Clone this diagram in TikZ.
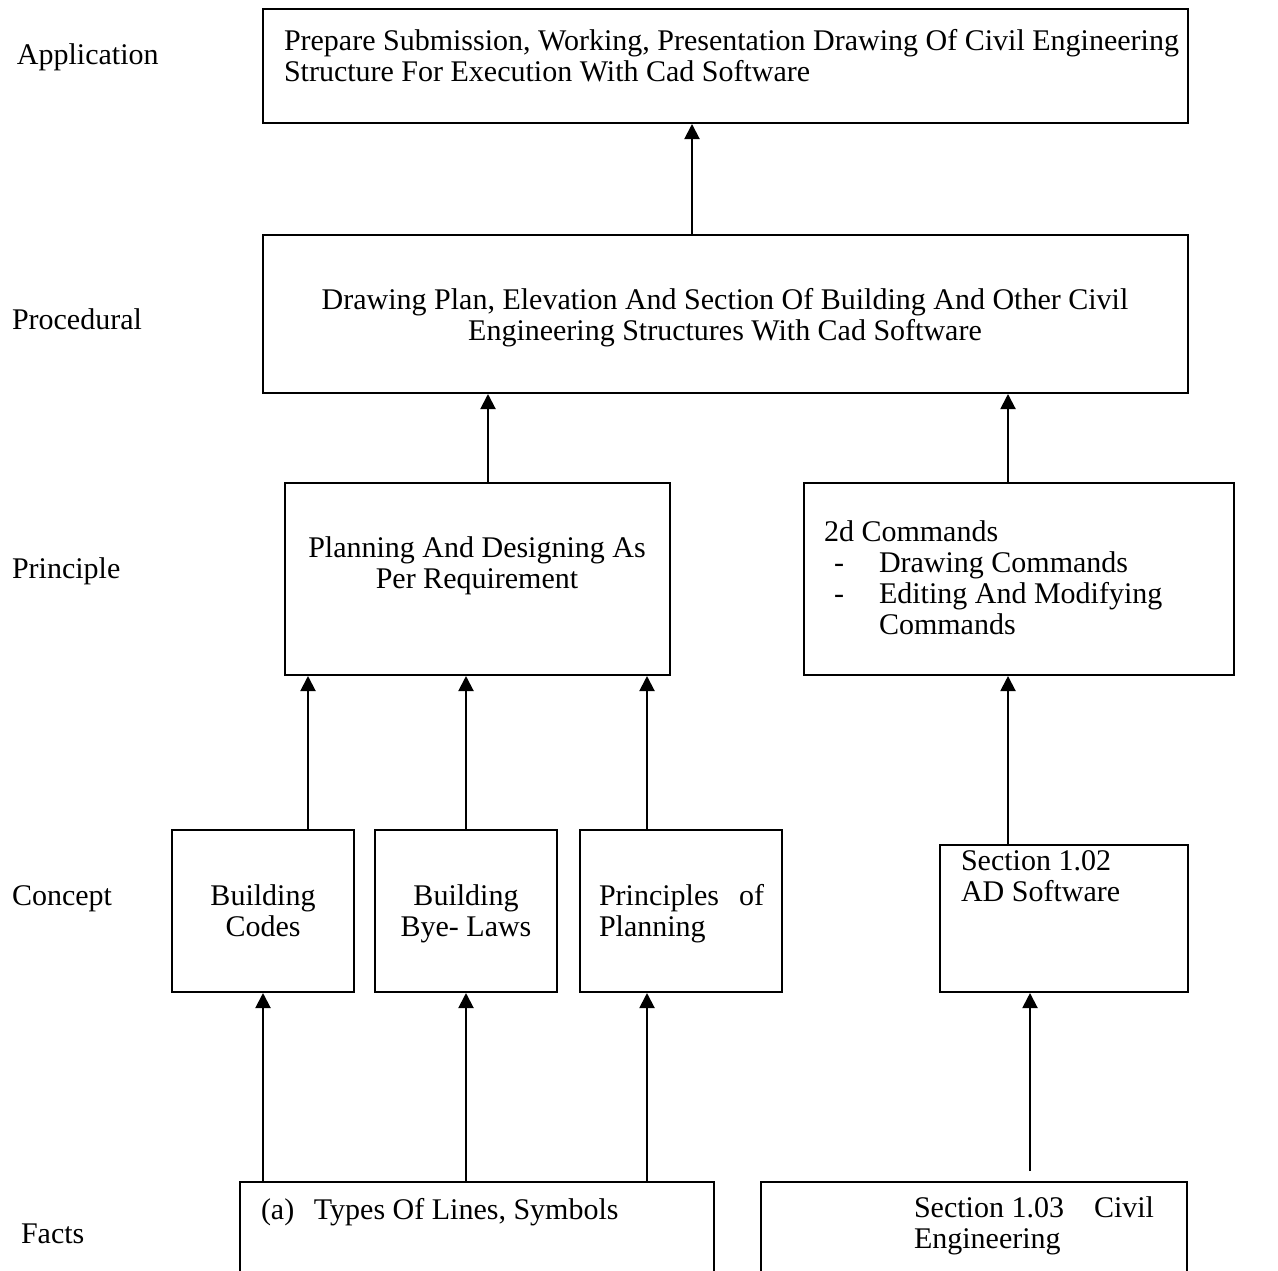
\documentclass[tikz,border=0pt]{standalone}
\usepackage{fontspec}
\setmainfont{Liberation Serif}
\usetikzlibrary{arrows.meta}

\begin{document}
\begin{tikzpicture}[x=0.5pt,y=-0.5pt,line width=1pt,
	every node/.style={font=\fontsize{15}{15.5}\selectfont},
	box/.style={draw,rectangle,inner sep=0pt},
	txt/.style={inner sep=0pt,anchor=base west,align=left},
	ctxt/.style={inner sep=0pt,anchor=base,align=center},
	arr/.style={-{Triangle[length=7.5pt,width=7.5pt]}}]
	\clip (0,0) rectangle (1278,1270);
	% level names
	\node[txt] (lapp) at (16,64) {Application};
	\node[txt] (lproc) at (11,329) {Procedural};
	\node[txt] (lprin) at (11,578) {Principle};
	\node[txt] (lcon) at (11,905) {Concept};
	\node[txt] (lfac) at (20,1243) {Facts};
	% boxes
	\node[box,minimum width=462.5pt,minimum height=57pt] (app) at (725.5,66) {};
	\node[box,minimum width=462.5pt,minimum height=79pt] (proc) at (725.5,314) {};
	\node[box,minimum width=192.5pt,minimum height=96pt] (plan) at (477.5,579) {};
	\node[box,minimum width=215pt,minimum height=96pt] (cmds) at (1019,579) {};
	\node[box,minimum width=91pt,minimum height=81pt] (codes) at (263,911) {};
	\node[box,minimum width=91pt,minimum height=81pt] (byelaws) at (466,911) {};
	\node[box,minimum width=101pt,minimum height=81pt] (pplan) at (681,911) {};
	\node[box,minimum width=124pt,minimum height=73.5pt] (cad) at (1064,918.5) {};
	\node[box,minimum width=237pt,minimum height=59pt] (lines) at (477,1241) {};
	\node[box,minimum width=213pt,minimum height=59pt] (civil) at (974,1241) {};
	% texts (base = last line)
	\node[txt] (apptxt) at (283,81) {Prepare Submission, Working, Presentation Drawing Of Civil Engineering\\Structure For Execution With Cad Software};
	\node[ctxt] (proctxt) at (725,340) {Drawing Plan, Elevation And Section Of Building And Other Civil\\Engineering Structures With Cad Software};
	\node[ctxt] (plantxt) at (477,588) {Planning And Designing As\\Per Requirement};
	\node[txt] (cmdstxt) at (823,634) {2d Commands\\
		\makebox[27.5pt][l]{\hspace{5pt}-}Drawing Commands\\
		\makebox[27.5pt][l]{\hspace{5pt}-}Editing And Modifying\\
		\hspace{27.5pt}Commands};
	\node[ctxt] (codestxt) at (263,936) {Building\\Codes};
	\node[ctxt] (byelawstxt) at (466,936) {Building\\Bye- Laws};
	\node[txt] (pplantxt) at (598,936) {\makebox[82.5pt]{Principles\hfill of}\\Planning};
	\node[txt] (cadtxt) at (960,901) {Section 1.02\\AD Software};
	\node[txt] (linestxt) at (260,1219) {\makebox[26.5pt][l]{(a)}Types Of Lines, Symbols};
	\node[txt] (civiltxt) at (913,1248) {\makebox[120pt]{Section 1.03\hfill Civil}\\Engineering};
	% arrows
	\foreach \x/\lo/\hi in {692/proc/app,488/plan/proc,1008/cmds/proc,
		308/codes/plan,466/byelaws/plan,647/pplan/plan,1008/cad/cmds,
		263/lines/codes,466/lines/byelaws,647/lines/pplan}
		\draw[arr] (\lo.north -| \x,0) -- (\hi.south -| \x,0);
	\coordinate (civtop) at ([yshift=5pt]civil.north);
	\draw[arr] (civtop -| 1030,0) -- (cad.south -| 1030,0);
\end{tikzpicture}
\end{document}
